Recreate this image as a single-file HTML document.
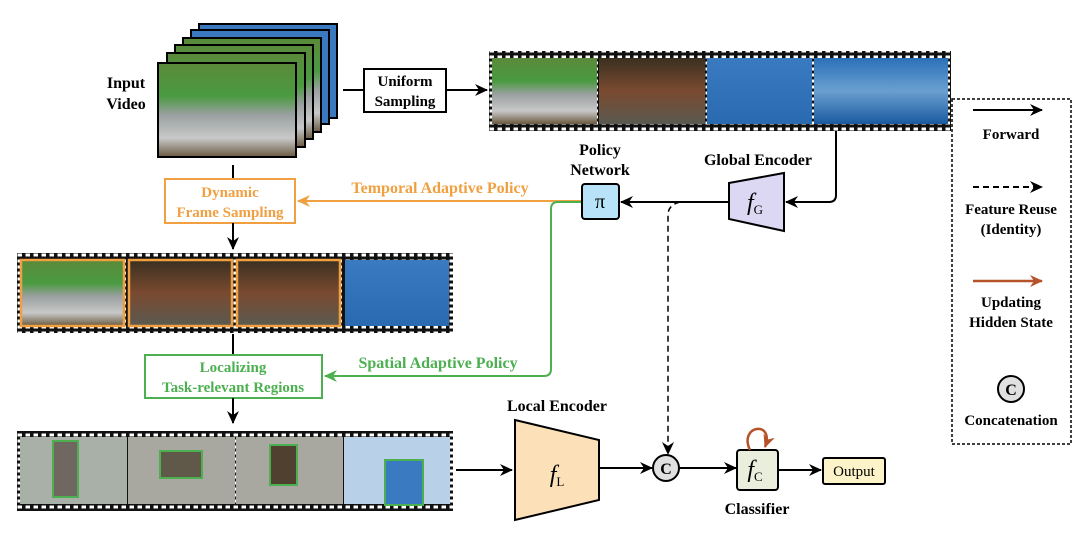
<!DOCTYPE html>
<html><head><meta charset="utf-8"><style>
html,body{margin:0;padding:0;background:#fff;}
svg{display:block;}
text{font-family:"Liberation Serif",serif;font-weight:bold;}
.n{font-weight:normal;}
</style></head><body>
<svg width="1080" height="537" viewBox="0 0 1080 537" xmlns="http://www.w3.org/2000/svg">
<defs>
<marker id="ab" markerWidth="14" markerHeight="12" refX="12" refY="6" orient="auto" markerUnits="userSpaceOnUse"><path d="M0,0 L13,6 L0,12 L4,6 z" fill="#000"/></marker>
<marker id="ao" markerWidth="14" markerHeight="12" refX="12" refY="6" orient="auto" markerUnits="userSpaceOnUse"><path d="M0,0 L13,6 L0,12 L4,6 z" fill="#f0a040"/></marker>
<marker id="ag" markerWidth="14" markerHeight="12" refX="12" refY="6" orient="auto" markerUnits="userSpaceOnUse"><path d="M0,0 L13,6 L0,12 L4,6 z" fill="#4caf50"/></marker>
<marker id="ar" markerWidth="14" markerHeight="12" refX="12" refY="6" orient="auto" markerUnits="userSpaceOnUse"><path d="M0,0 L13,6 L0,12 L4,6 z" fill="#b5532a"/></marker>
<linearGradient id="gf" x1="0" y1="0" x2="0" y2="1"><stop offset="0" stop-color="#5a8a3a"/><stop offset="0.35" stop-color="#4a9a40"/><stop offset="0.55" stop-color="#9aa0a0"/><stop offset="0.8" stop-color="#c8c8c8"/><stop offset="1" stop-color="#6a5a40"/></linearGradient>
<linearGradient id="gc" x1="0" y1="0" x2="0" y2="1"><stop offset="0" stop-color="#3a3020"/><stop offset="0.5" stop-color="#7a4a30"/><stop offset="1" stop-color="#5a5a50"/></linearGradient>
<linearGradient id="gp" x1="0" y1="0" x2="0" y2="1"><stop offset="0" stop-color="#3a7ac0"/><stop offset="1" stop-color="#2a6ab0"/></linearGradient>
<linearGradient id="gw" x1="0" y1="0" x2="0" y2="1"><stop offset="0" stop-color="#2a70b8"/><stop offset="0.5" stop-color="#6aa0d0"/><stop offset="1" stop-color="#1a5aa0"/></linearGradient>
<pattern id="holes" width="8" height="6" patternUnits="userSpaceOnUse"><rect width="8" height="6" fill="#111"/><rect x="1.5" y="1.5" width="4.5" height="3" fill="#fff"/></pattern>
</defs>

<g stroke="#000" stroke-width="2">
<rect x="199" y="24" width="138" height="94" fill="#3a78c0"/>
<rect x="191" y="30" width="138" height="94" fill="#3a78c0"/>
<rect x="183" y="38" width="138" height="94" fill="url(#gf)"/>
<rect x="175" y="45" width="138" height="94" fill="url(#gf)"/>
<rect x="167" y="53" width="138" height="94" fill="url(#gf)"/>
<rect x="158" y="63" width="138" height="94" fill="url(#gf)"/>
</g>
<text x="126" y="88" font-size="16" text-anchor="middle">Input</text>
<text x="126" y="109" font-size="16" text-anchor="middle">Video</text>

<line x1="343" y1="90" x2="363" y2="90" stroke="#000" stroke-width="2"/>
<rect x="364" y="69" width="82" height="43" fill="#fff" stroke="#000" stroke-width="2"/>
<text x="405" y="86" font-size="15" text-anchor="middle">Uniform</text>
<text x="405" y="106" font-size="15" text-anchor="middle">Sampling</text>
<line x1="446" y1="90" x2="487" y2="90" stroke="#000" stroke-width="2" marker-end="url(#ab)"/>

<rect x="489" y="51" width="462" height="80" fill="url(#holes)"/>
<rect x="492" y="58" width="105" height="66" fill="url(#gf)"/>
<rect x="599" y="58" width="106" height="66" fill="url(#gc)"/>
<rect x="707" y="58" width="105" height="66" fill="url(#gp)"/>
<rect x="814" y="58" width="134" height="66" fill="url(#gw)"/>

<line x1="233" y1="165" x2="233" y2="178" stroke="#000" stroke-width="2"/>
<rect x="165" y="179" width="130" height="44" fill="#fff" stroke="#f0a040" stroke-width="2"/>
<text x="230" y="197" font-size="15" text-anchor="middle" fill="#f0a040">Dynamic</text>
<text x="230" y="217" font-size="15" text-anchor="middle" fill="#f0a040">Frame Sampling</text>
<line x1="233" y1="223" x2="233" y2="249" stroke="#000" stroke-width="2" marker-end="url(#ab)"/>
<line x1="583" y1="201" x2="298" y2="201" stroke="#f0a040" stroke-width="2" marker-end="url(#ao)"/>
<text x="440" y="193" font-size="16" text-anchor="middle" fill="#f0a040">Temporal Adaptive Policy</text>

<rect x="17" y="253" width="436" height="80" fill="url(#holes)"/>
<g stroke="#f0a040" stroke-width="2.5">
<rect x="21" y="260" width="103" height="66" fill="url(#gf)"/>
<rect x="129" y="260" width="103" height="66" fill="url(#gc)"/>
<rect x="237" y="260" width="103" height="66" fill="url(#gc)"/>
</g>
<rect x="345" y="260" width="104" height="66" fill="url(#gp)"/>

<line x1="233" y1="334" x2="233" y2="355" stroke="#000" stroke-width="2"/>
<rect x="145" y="355" width="177" height="43" fill="#fff" stroke="#4caf50" stroke-width="2"/>
<text x="233" y="372" font-size="15" text-anchor="middle" fill="#4caf50">Localizing</text>
<text x="233" y="392" font-size="15" text-anchor="middle" fill="#4caf50">Task-relevant Regions</text>
<line x1="233" y1="398" x2="233" y2="423" stroke="#000" stroke-width="2" marker-end="url(#ab)"/>
<path d="M583,202 L558,202 Q551,202 551,209 L551,369 Q551,376 544,376 L325,376" fill="none" stroke="#4caf50" stroke-width="2" marker-end="url(#ag)"/>
<text x="438" y="368" font-size="16" text-anchor="middle" fill="#4caf50">Spatial Adaptive Policy</text>

<rect x="17" y="431" width="436" height="80" fill="url(#holes)"/>
<rect x="20" y="437" width="107" height="67" fill="#a8b0a8"/>
<rect x="128" y="437" width="107" height="67" fill="#a8a8a0"/>
<rect x="236" y="437" width="107" height="67" fill="#a8a8a0"/>
<rect x="344" y="437" width="106" height="67" fill="#b8d0e8"/>
<g stroke="#4caf50" stroke-width="2">
<rect x="53" y="441" width="25" height="56" fill="#706860"/>
<rect x="160" y="451" width="42" height="27" fill="#605848"/>
<rect x="270" y="445" width="27" height="40" fill="#504030"/>
<rect x="385" y="460" width="38" height="45" fill="#3a7ac0"/>
</g>

<line x1="456" y1="470" x2="512" y2="470" stroke="#000" stroke-width="2" marker-end="url(#ab)"/>
<polygon points="515,420 599,440 599,500 515,520" fill="#fbe0b8" stroke="#000" stroke-width="2"/>
<text x="557" y="482" font-size="24" text-anchor="middle" font-style="italic" class="n">f<tspan font-size="13" font-style="normal" dy="4">L</tspan></text>
<text x="557" y="411" font-size="16" text-anchor="middle">Local Encoder</text>
<line x1="599" y1="468" x2="652" y2="468" stroke="#000" stroke-width="2" marker-end="url(#ab)"/>
<circle cx="666" cy="468" r="13" fill="#e0e0e0" stroke="#000" stroke-width="2"/>
<text x="666" y="474" font-size="16" text-anchor="middle">C</text>
<line x1="679" y1="468" x2="736" y2="468" stroke="#000" stroke-width="2" marker-end="url(#ab)"/>
<rect x="737" y="450" width="41" height="40" rx="3" fill="#e9efdc" stroke="#000" stroke-width="2"/>
<text x="755" y="477" font-size="24" text-anchor="middle" font-style="italic" class="n">f<tspan font-size="13" font-style="normal" dy="4">C</tspan></text>
<path d="M750,450 C738,425 775,420 765,447" fill="none" stroke="#b5532a" stroke-width="2.5" marker-end="url(#ar)"/>
<text x="757" y="514" font-size="16" text-anchor="middle">Classifier</text>
<line x1="778" y1="470" x2="821" y2="470" stroke="#000" stroke-width="2" marker-end="url(#ab)"/>
<rect x="823" y="458" width="62" height="26" rx="2" fill="#fdf3c8" stroke="#000" stroke-width="2"/>
<text x="854" y="476" font-size="15" text-anchor="middle" class="n">Output</text>

<path d="M836,131 L836,195 Q836,202 829,202 L786,202" fill="none" stroke="#000" stroke-width="2" marker-end="url(#ab)"/>
<polygon points="729,183 784,173 784,231 729,219" fill="#dcd8f4" stroke="#000" stroke-width="2"/>
<text x="755" y="210" font-size="24" text-anchor="middle" font-style="italic" class="n">f<tspan font-size="13" font-style="normal" dy="4">G</tspan></text>
<text x="758" y="165" font-size="16" text-anchor="middle">Global Encoder</text>
<line x1="729" y1="202" x2="621" y2="202" stroke="#000" stroke-width="2" marker-end="url(#ab)"/>
<rect x="582" y="184" width="37" height="35" rx="3" fill="#b8e2f8" stroke="#000" stroke-width="2"/>
<text x="600" y="208" font-size="20" text-anchor="middle" class="n">π</text>
<text x="600" y="155" font-size="16" text-anchor="middle">Policy</text>
<text x="600" y="175" font-size="16" text-anchor="middle">Network</text>
<path d="M680,202 Q668,205 668,215 L668,454" fill="none" stroke="#000" stroke-width="1.5" stroke-dasharray="6,4" marker-end="url(#ab)"/>

<rect x="952" y="99" width="119" height="345" fill="#fff" stroke="#000" stroke-width="1.5" stroke-dasharray="3,2"/>
<line x1="973" y1="110" x2="1042" y2="110" stroke="#000" stroke-width="2" marker-end="url(#ab)"/>
<text x="1011" y="139" font-size="15" text-anchor="middle">Forward</text>
<line x1="973" y1="187" x2="1042" y2="187" stroke="#000" stroke-width="2" stroke-dasharray="6,4" marker-end="url(#ab)"/>
<text x="1011" y="214" font-size="15" text-anchor="middle">Feature Reuse</text>
<text x="1011" y="234" font-size="15" text-anchor="middle">(Identity)</text>
<line x1="973" y1="281" x2="1042" y2="281" stroke="#b5532a" stroke-width="2.5" marker-end="url(#ar)"/>
<text x="1011" y="307" font-size="15" text-anchor="middle">Updating</text>
<text x="1011" y="327" font-size="15" text-anchor="middle">Hidden State</text>
<circle cx="1011" cy="389" r="13" fill="#e0e0e0" stroke="#000" stroke-width="2"/>
<text x="1011" y="395" font-size="16" text-anchor="middle">C</text>
<text x="1011" y="425" font-size="15" text-anchor="middle">Concatenation</text>
</svg>
</body></html>
